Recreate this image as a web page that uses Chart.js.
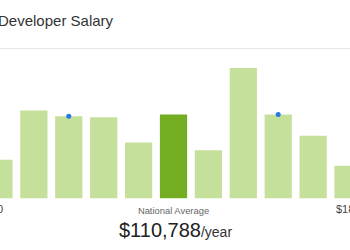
<!DOCTYPE html>
<html>
<head>
<meta charset="utf-8">
<script src="https://cdn.jsdelivr.net/npm/chart.js@4"></script>
<style>
  html, body { margin:0; padding:0; width:350px; height:250px; overflow:hidden; background:#fff; font-family:"Liberation Sans", Arial, Helvetica, sans-serif; }
  #title { position:absolute; left:-2px; top:12px; font-size:15px; color:#333; white-space:nowrap; line-height:18px; }
  #sep { position:absolute; left:0; top:48px; width:350px; height:1px; background:#e6e6e6; }
  #wrap { position:absolute; left:-21px; top:50px; width:389px; height:151px; }
  .tick { position:absolute; top:203px; font-size:11px; color:#444; white-space:nowrap; line-height:13px; }
  #natl { position:absolute; left:0; width:347px; top:205px; text-align:center; font-size:9.4px; color:#666; line-height:12px; }
  #avg { position:absolute; left:119px; top:219px; white-space:nowrap; color:#222; line-height:22px; }
  #avg .big { font-size:20px; }
  #avg .small { font-size:14px; color:#333; }
</style>
</head>
<body>
<div id="title"></div>
<div id="sep"></div>
<div id="wrap"><canvas id="c"></canvas></div>
<div class="tick" id="tLeft" style="right:347px;"></div>
<div class="tick" id="tRight" style="left:336px;"></div>
<div id="natl"></div>
<div id="avg"><span class="big" id="avgVal"></span><span class="small">/year</span></div>
<script>
const titleText = "Developer Salary";
const categories = ["b1","b2","b3","b4","b5","b6","b7","b8","b9","b10","b11"];
const counts = [40, 91, 85, 84, 58, 87, 50, 135, 87, 65, 34];
const highlightIndex = 5;
const markerValues = [null, null, 85, null, null, null, null, null, 87, null, null];
const tickLabels = ["$50,000", "$180,000"];
const averageLabel = "National Average";
const averageValue = "$110,788";

document.getElementById('title').textContent = titleText;
document.getElementById('tLeft').textContent = tickLabels[0];
document.getElementById('tRight').textContent = tickLabels[1];
document.getElementById('natl').textContent = averageLabel;
document.getElementById('avgVal').textContent = averageValue;

const light = 'rgb(197,224,155)';
const dark = 'rgb(115,173,33)';
const barColors = counts.map((v, i) => i === highlightIndex ? dark : light);

new Chart(document.getElementById('c'), {
  data: {
    labels: categories,
    datasets: [
      {
        type: 'line',
        data: markerValues,
        showLine: false,
        pointRadius: 2.5,
        pointHoverRadius: 2.5,
        pointBackgroundColor: 'rgb(40,120,230)',
        pointBorderWidth: 0,
        order: 0
      },
      {
        type: 'bar',
        data: counts,
        backgroundColor: barColors,
        borderWidth: 0,
        barPercentage: 0.78,
        categoryPercentage: 1.0,
        order: 1
      }
    ]
  },
  options: {
    responsive: true,
    maintainAspectRatio: false,
    animation: false,
    layout: { padding: 0 },
    plugins: { legend: { display: false }, tooltip: { enabled: false }, title: { display: false } },
    scales: {
      x: { display: false, offset: true },
      y: { display: false, min: 0, max: 151 }
    }
  }
});
</script>
</body>
</html>
